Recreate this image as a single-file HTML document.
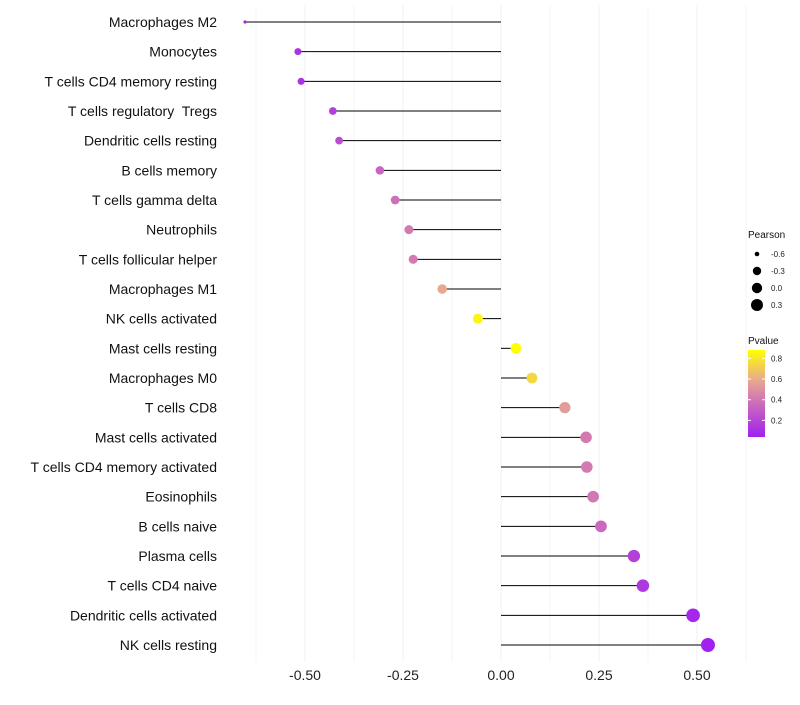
<!DOCTYPE html>
<html><head><meta charset="utf-8"><style>
body{margin:0;background:#fff;font-family:"Liberation Sans",sans-serif;}
</style></head><body>
<svg id="chart" width="800" height="700" xmlns="http://www.w3.org/2000/svg">
<defs><linearGradient id="pg" x1="0" y1="1" x2="0" y2="0">
<stop offset="0" stop-color="#a020f0"/><stop offset="0.35" stop-color="#c865c0"/><stop offset="0.65" stop-color="#e8a890"/><stop offset="1" stop-color="#ffff00"/></linearGradient></defs>
<g id="grid"></g><g id="marks"></g><g id="labels"></g><g id="legend"></g>
</svg>
<script>
const categories=["Macrophages M2","Monocytes","T cells CD4 memory resting","T cells regulatory  Tregs","Dendritic cells resting","B cells memory","T cells gamma delta","Neutrophils","T cells follicular helper","Macrophages M1","NK cells activated","Mast cells resting","Macrophages M0","T cells CD8","Mast cells activated","T cells CD4 memory activated","Eosinophils","B cells naive","Plasma cells","T cells CD4 naive","Dendritic cells activated","NK cells resting"];
const pearson=[-0.653,-0.518,-0.510,-0.429,-0.413,-0.309,-0.270,-0.235,-0.224,-0.150,-0.059,0.038,0.079,0.163,0.217,0.219,0.235,0.255,0.339,0.362,0.490,0.528];
const pvalue=[0.05,0.1,0.1,0.15,0.2,0.3,0.35,0.4,0.4,0.6,0.85,0.88,0.75,0.55,0.4,0.4,0.38,0.32,0.15,0.12,0.05,0.03];
const xTicks=[-0.5,-0.25,0,0.25,0.5];
const xTickLabels=["-0.50","-0.25","0.00","0.25","0.50"];
const sizeLegend=[-0.6,-0.3,0.0,0.3];
const pvalTicks=[0.2,0.4,0.6,0.8];

const NS="http://www.w3.org/2000/svg";
const x=v=>501+392*v;
const y=i=>22+i*(623/21);
const rs=[[-0.66,1.5],[-0.55,3.4],[-0.3,4.3],[0,5.2],[0.3,6],[0.53,7]];
function r(v){if(v<=rs[0][0])return rs[0][1];for(let i=1;i<rs.length;i++){if(v<=rs[i][0]){const t=(v-rs[i-1][0])/(rs[i][0]-rs[i-1][0]);return rs[i-1][1]+t*(rs[i][1]-rs[i-1][1]);}}return rs[rs.length-1][1];}
const pY=p=>437-(p-0.04)/(0.88-0.04)*87;
function mk(t,a,p){const e=document.createElementNS(NS,t);for(const k in a)e.setAttribute(k,a[k]);document.getElementById(p).appendChild(e);return e;}
const stops=[[0.02,[160,32,240]],[0.3,[200,101,192]],[0.6,[232,168,144]],[0.88,[255,255,0]]];
function col(p){if(p<=stops[0][0])return "rgb("+stops[0][1]+")";for(let i=1;i<stops.length;i++){if(p<=stops[i][0]){const[a,ca]=stops[i-1],[b,cb]=stops[i];const t=(p-a)/(b-a);return "rgb("+ca.map((c,j)=>Math.round(c+(cb[j]-c)*t)).join(",")+")";}}return "rgb(255,255,0)";}

for(let v=-0.625;v<=0.626;v+=0.125){
 const g=mk("line",{x1:x(v),x2:x(v),y1:5,y2:662,stroke:"#f0f0f0","stroke-width":Math.abs((v*4)%1)<0.01?1:0.6},"grid");
 
 
}
xTicks.forEach((v,i)=>{
 const t=mk("text",{x:x(v),y:680,"text-anchor":"middle","font-size":14,fill:"#222"},"labels");
 t.textContent=xTickLabels[i];
 
 
});
categories.forEach((c,i)=>{
 const l=mk("line",{x1:x(0),x2:x(pearson[i]),y1:y(i),y2:y(i),stroke:"#000","stroke-width":1},"marks");
 
 
 const d=mk("circle",{cx:x(pearson[i]),cy:y(i),r:r(pearson[i]),fill:col(pvalue[i])},"marks");
 
 
 const t=mk("text",{x:217,y:y(i)+5,"text-anchor":"end","font-size":14,fill:"#111","xml:space":"preserve",style:"white-space:pre"},"labels");
 t.textContent=c;
 
 
});
let t=mk("text",{x:748,y:238,"font-size":10,fill:"#111"},"legend");t.textContent="Pearson";


sizeLegend.forEach((v,i)=>{
 const c=mk("circle",{cx:757,cy:254+i*17,r:[2.3,4.2,5.2,6][i],fill:"#000"},"legend");
 
 
 const l=mk("text",{x:771,y:257+i*17,"font-size":8,fill:"#222"},"legend");l.textContent=v.toFixed(1);
 
 
});
t=mk("text",{x:748,y:344,"font-size":10,fill:"#111"},"legend");t.textContent="Pvalue";


const bar=mk("rect",{x:748,y:350,width:17,height:87,fill:"url(#pg)"},"legend");


pvalTicks.forEach(p=>{
 const l=mk("text",{x:771,y:pY(p)+3,"font-size":8,fill:"#222"},"legend");l.textContent=p.toFixed(1);
 
 
 mk("line",{x1:748,x2:751,y1:pY(p),y2:pY(p),stroke:"#fff"},"legend");
 mk("line",{x1:762,x2:765,y1:pY(p),y2:pY(p),stroke:"#fff"},"legend");
});
</script>
</body></html>
